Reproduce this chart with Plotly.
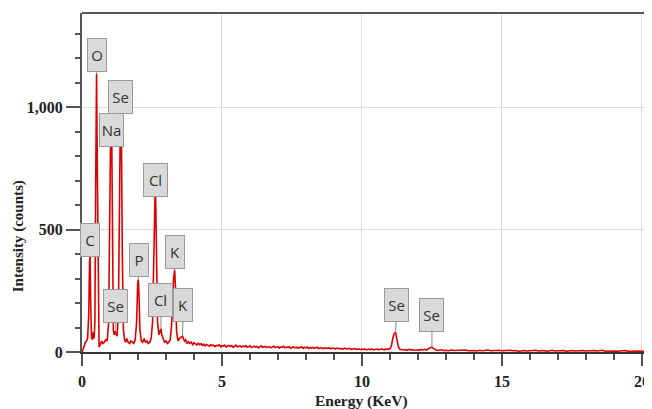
import plotly.graph_objects as go

# ---------------- data ----------------
# peak region (explicit energy / counts)
peak_energy = [0.00, 0.04, 0.08, 0.12, 0.16, 0.20, 0.24, 0.27, 0.29, 0.31, 0.34, 0.37, 0.40, 0.43, 0.46,
               0.49, 0.52, 0.55, 0.58, 0.61, 0.65, 0.70, 0.75, 0.80, 0.85, 0.90, 0.95, 0.99, 1.02, 1.04,
               1.06, 1.09, 1.12, 1.15, 1.19, 1.21, 1.25, 1.30, 1.34, 1.37, 1.39, 1.41, 1.44, 1.48, 1.52,
               1.56, 1.60, 1.65, 1.70, 1.75, 1.80, 1.85, 1.90, 1.95, 1.99, 2.01, 2.03, 2.07, 2.12, 2.17,
               2.22, 2.27, 2.32, 2.37, 2.42, 2.47, 2.52, 2.57, 2.61, 2.63, 2.66, 2.70, 2.75, 2.79, 2.82,
               2.85, 2.90, 2.95, 3.00, 3.05, 3.10, 3.15, 3.20, 3.27, 3.31, 3.34, 3.38, 3.43, 3.48, 3.53,
               3.59, 3.62, 3.66, 3.70, 3.75]
peak_counts = [0, 10, 25, 40, 45, 55, 150, 370, 388, 200, 60, 50, 80, 55, 120,
               700, 1135, 720, 150, 20, 30, 45, 35, 40, 50, 45, 120, 600, 1050, 1075,
               900, 300, 90, 70, 85, 75, 65, 150, 700, 960, 975, 850, 400, 90, 50,
               40, 55, 40, 35, 45, 40, 35, 50, 120, 280, 295, 250, 90, 45, 40,
               55, 40, 45, 35, 40, 55, 120, 450, 650, 640, 400, 120, 70, 90, 95,
               70, 50, 40, 45, 35, 40, 50, 110, 300, 335, 260, 80, 45, 55, 60,
               65, 55, 45, 50, 35]

# background 3.80 .. 9.95 keV, every 0.05 keV
bg1_start, bg1_step = 3.80, 0.05
bg1_counts = [42, 35, 40, 30, 38, 33, 28, 36, 30, 34, 27, 32, 25, 31, 29, 24, 30, 26, 28, 22,
              27, 25, 30, 21, 26, 24, 28, 20, 25, 27, 22, 26, 19, 24, 28, 21, 23, 25, 20, 24,
              22, 26, 19, 23, 25, 18, 22, 24, 20, 23, 17, 22, 25, 19, 21, 23, 18, 22, 20, 17,
              21, 24, 18, 20, 22, 16, 21, 19, 23, 17, 20, 18, 22, 15, 19, 21, 17, 20, 16, 19,
              18, 21, 15, 19, 17, 20, 14, 18, 16, 19, 15, 17, 20, 14, 16, 18, 13, 17, 15, 16,
              14, 17, 13, 16, 15, 12, 16, 14, 13, 15, 11, 14, 16, 12, 13, 15, 11, 13, 12, 14,
              11, 13, 12, 10]

# 10.00 .. 12.95 keV, every 0.05 keV (Se K lines)
bg2_start, bg2_step = 10.00, 0.05
bg2_counts = [12, 10, 13, 9, 11, 12, 10, 13, 9, 11,
              10, 12, 9, 11, 13, 10, 9, 12, 10, 11,
              14, 25, 55, 75, 80, 55, 22, 11, 9, 10,
              8, 10, 7, 9, 11, 8, 10, 7, 9, 8,
              9, 7, 10, 8, 9, 11, 8, 12, 14, 17,
              20, 15, 10, 8, 6, 8, 7, 9, 6, 8]

# 13.0 .. 20.3 keV, every 0.1 keV
bg3_start, bg3_step = 13.0, 0.1
bg3_counts = [7, 5, 8, 6, 7, 5, 6, 8, 5, 7,
              6, 4, 7, 5, 6, 8, 5, 6, 4, 7,
              5, 6, 4, 7, 5, 6, 3, 5, 6, 4,
              6, 5, 7, 4, 5, 6, 3, 5, 7, 4,
              5, 4, 6, 3, 5, 6, 4, 5, 3, 6,
              4, 5, 3, 6, 4, 5, 7, 3, 4, 5,
              4, 3, 5, 4, 6, 3, 4, 5, 3, 4,
              3, 4, 3, 4]

# element labels and the peak each one marks
label_text = ["O", "Se", "Na", "C", "Cl", "P", "K", "Se", "Cl", "K", "Se", "Se"]
label_peak_energy = [0.52, 1.39, 1.04, 0.29, 2.61, 2.01, 3.31, 1.21, 2.82, 3.59, 11.20, 12.50]
label_peak_counts = [1135, 975, 1075, 388, 650, 295, 335, 75, 95, 65, 80, 20]

y_tick_vals = [0, 500, 1000]
y_tick_text = ["0", "500", "1,000"]
x_tick_vals = [0, 5, 10, 15, 20]

# ---------------- layout helpers (positions of label boxes, in data units) ----------------
box_center = [(0.536, 1213), (1.39, 1041), (1.05, 906), (0.30, 457), (2.61, 702), (2.04, 376),
              (3.32, 408), (1.21, 188), (2.82, 212), (3.625, 192), (11.25, 192), (12.5, 151)]
box_arrow = [True, True, False, True, True, True, True, True, True, True, True, True]

energy = list(peak_energy)
counts = list(peak_counts)
for start, step, vals in [(bg1_start, bg1_step, bg1_counts),
                          (bg2_start, bg2_step, bg2_counts),
                          (bg3_start, bg3_step, bg3_counts)]:
    for i, v in enumerate(vals):
        energy.append(round(start + i * step, 3))
        counts.append(v)

fig = go.Figure()
fig.add_trace(go.Scatter(x=energy, y=counts, mode="lines",
                         line=dict(color="#e00000", width=1.6), hoverinfo="skip",
                         showlegend=False))

serif = "Liberation Serif"
for t, pe, pc, (bx, by), arr in zip(label_text, label_peak_energy, label_peak_counts,
                                     box_center, box_arrow):
    w = 21 if len(t) == 2 else 16
    fig.add_annotation(
        x=pe if arr else bx, y=pc if arr else by,
        ax=bx, ay=by, axref="x", ayref="y", xref="x", yref="y",
        showarrow=arr, arrowhead=0, arrowwidth=1, arrowcolor="#8a8a8a", standoff=0,
        text=t, font=dict(family="Open Sans", size=15, color="#333333"),
        bgcolor="#d9d9d9", bordercolor="#9a9a9a", borderwidth=1, borderpad=1,
        width=w, height=30, align="center", valign="middle")

# axis titles
fig.add_annotation(text="<b>Energy (KeV)</b>", x=10, xref="x", y=-0.1445, yref="paper",
                   showarrow=False, xanchor="center", yanchor="middle",
                   font=dict(family=serif, size=15.5, color="#222222"))
fig.add_annotation(text="<b>Intensity (counts)</b>", x=-0.112, xref="paper", y=0.342, yref="paper",
                   showarrow=False, textangle=-90, xanchor="center", yanchor="middle",
                   font=dict(family=serif, size=15, color="#222222"))

# top frame line
fig.add_shape(type="line", xref="paper", yref="paper", x0=0, x1=1, y0=1, y1=1,
              line=dict(color="#555555", width=2))

# the page adds an 8px body margin, so the figure is 8px smaller on each axis
fig.update_layout(
    width=644, height=401,
    margin=dict(l=74, r=0, t=5, b=57, autoexpand=False),
    paper_bgcolor="white", plot_bgcolor="white",
    xaxis=dict(range=[0, 20.36], tickvals=x_tick_vals, showgrid=True, gridcolor="#dcdcdc",
               gridwidth=1, zeroline=False, showline=True, linecolor="#333333", linewidth=2,
               ticks="outside", ticklen=12, tickwidth=2, tickcolor="#555555", automargin=False,
               minor=dict(dtick=1, ticks="outside", ticklen=6, tickwidth=1.5,
                          tickcolor="#555555", showgrid=False),
               tickfont=dict(family=serif, size=16, color="#222222", weight="bold"),
               ticklabelstandoff=2),
    yaxis=dict(range=[0, 1384], tickvals=y_tick_vals, ticktext=y_tick_text, showgrid=True,
               gridcolor="#dcdcdc", gridwidth=1, zeroline=False, showline=True, automargin=False,
               linecolor="#555555", linewidth=2, ticks="outside", ticklen=14, tickwidth=2,
               tickcolor="#555555",
               minor=dict(dtick=100, ticks="outside", ticklen=5, tickwidth=1.5,
                          tickcolor="#555555", showgrid=False),
               tickfont=dict(family=serif, size=16, color="#222222", weight="bold")),
)

fig.write_html("out.html")
